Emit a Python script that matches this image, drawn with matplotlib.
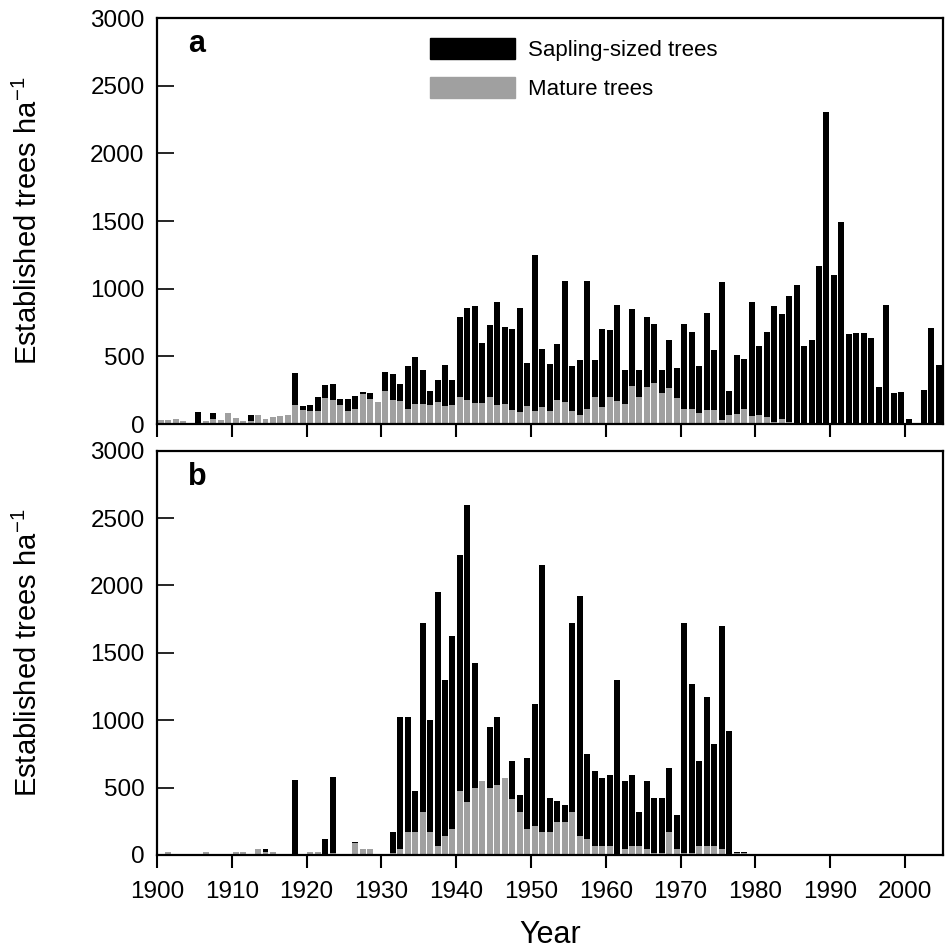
import numpy as np
import matplotlib.pyplot as plt
from matplotlib.patches import Patch

plt.rcParams['font.family'] = ['Liberation Sans', 'DejaVu Sans']
plt.rcParams['mathtext.fontset'] = 'custom'
plt.rcParams['mathtext.rm'] = 'Liberation Sans'

years = np.arange(1900, 2005)

# panel a: total height of each stacked bar and the mature (grey) part
total_a = [30, 30, 40, 25, 12, 89, 25, 82, 30, 82,
           47, 25, 67, 67, 40, 54, 62, 67, 377, 133,
           140, 200, 288, 296, 185, 185, 207, 234, 229, 160,
           384, 374, 296, 432, 497, 399, 244, 325, 436, 325,
           791, 857, 872, 599, 732, 901, 717, 702, 857, 451,
           1250, 554, 443, 591, 1057, 429, 473, 1057, 473, 702,
           695, 879, 399, 850, 399, 791, 739, 397, 625, 418,
           741, 682, 431, 823, 549, 1052, 246, 512, 483, 904,
           579, 682, 874, 815, 948, 1030, 579, 623, 1170, 2308,
           1103, 1495, 667, 675, 675, 638, 276, 882, 232, 239,
           39, 0, 254, 712, 438]
mature_a = [30, 30, 40, 25, 0, 7, 25, 40, 30, 82,
            47, 25, 25, 67, 40, 54, 62, 67, 140, 104,
            96, 96, 192, 177, 140, 96, 111, 222, 187, 160,
            246, 182, 168, 111, 148, 148, 140, 163, 133, 140,
            200, 177, 155, 155, 200, 140, 148, 103, 89, 133,
            96, 126, 96, 177, 163, 96, 67, 111, 200, 126,
            200, 170, 148, 281, 200, 273, 303, 228, 265, 191,
            113, 113, 84, 106, 106, 32, 69, 76, 113, 62,
            69, 54, 17, 39, 17, 0, 0, 0, 0, 0,
            0, 0, 0, 0, 0, 0, 0, 0, 0, 0,
            0, 0, 0, 0, 0]

# panel b
total_b = [0, 20, 0, 0, 0, 0, 20, 0, 0, 0,
           20, 20, 0, 45, 45, 20, 0, 0, 557, 0,
           20, 20, 120, 577, 0, 0, 98, 45, 45, 0,
           0, 171, 1026, 1026, 477, 1724, 1001, 1951, 1298, 1625,
           2225, 2596, 1424, 551, 952, 1026, 574, 697, 448, 720,
           1120, 2151, 425, 403, 373, 1724, 1921, 749, 626, 574,
           596, 1298, 551, 596, 321, 550, 423, 423, 646, 297,
           1720, 1270, 698, 1173, 824, 1700, 921, 22, 22, 0,
           0, 0, 0, 0, 0, 0, 0, 0, 0, 0,
           0, 0, 0, 0, 0, 0, 0, 0, 0, 0,
           0, 0, 0, 0, 0]
mature_b = [0, 20, 0, 0, 0, 0, 20, 0, 0, 0,
            20, 20, 0, 45, 20, 20, 0, 0, 0, 0,
            20, 20, 0, 15, 0, 0, 90, 45, 45, 0,
            0, 17, 47, 173, 173, 321, 173, 69, 141, 195,
            477, 396, 500, 551, 500, 522, 574, 418, 321, 195,
            218, 173, 173, 247, 247, 321, 143, 121, 69, 69,
            69, 0, 47, 69, 69, 45, 15, 15, 171, 45,
            15, 15, 67, 67, 67, 45, 0, 15, 15, 0,
            0, 0, 0, 0, 0, 0, 0, 0, 0, 0,
            0, 0, 0, 0, 0, 0, 0, 0, 0, 0,
            0, 0, 0, 0, 0]

grey = '#a0a0a0'

fig = plt.figure(figsize=(9.46, 9.51), dpi=100)
axa = fig.add_axes([0.166, 0.554, 0.831, 0.427])
axb = fig.add_axes([0.166, 0.101, 0.831, 0.425])

for ax, total, mature in ((axa, total_a, mature_a), (axb, total_b, mature_b)):
    total = np.array(total)
    mature = np.array(mature)
    ax.bar(years + 0.1, mature, width=0.8, align='edge', color=grey, lw=0)
    ax.bar(years + 0.1, total - mature, bottom=mature, width=0.8,
           align='edge', color='black', lw=0)
    ax.set_xlim(1900, 2005.1)
    ax.set_ylim(0, 3000)
    ax.set_xticks(np.arange(1900, 2001, 10))
    ax.set_yticks(np.arange(0, 3001, 500))
    ax.tick_params(axis='x', direction='out', length=9, width=1.5, pad=10)
    ax.tick_params(axis='y', direction='in', length=12, width=1.2, pad=9)
    ax.tick_params(labelsize=17.5)
    for s in ax.spines.values():
        s.set_linewidth(1.6)
    ax.set_ylabel(r'Established trees ha$^{\mathregular{-1}}$', fontsize=21,
                  labelpad=34)

axa.set_xticklabels([])
axb.set_xlabel('Year', fontsize=22, labelpad=12)

axa.text(0.04, 0.935, 'a', transform=axa.transAxes, fontsize=22,
         fontweight='bold', va='center')
axb.text(0.04, 0.935, 'b', transform=axb.transAxes, fontsize=22,
         fontweight='bold', va='center')

handles = [Patch(color='black', label='Sapling-sized trees'),
           Patch(color=grey, label='Mature trees')]
axa.legend(handles=handles, loc='upper left', bbox_to_anchor=(0.322, 1.0),
           frameon=False, fontsize=16, handlelength=3.8, handleheight=1.1,
           labelspacing=0.7, handletextpad=0.6)

fig.savefig('out.png', dpi=100)
